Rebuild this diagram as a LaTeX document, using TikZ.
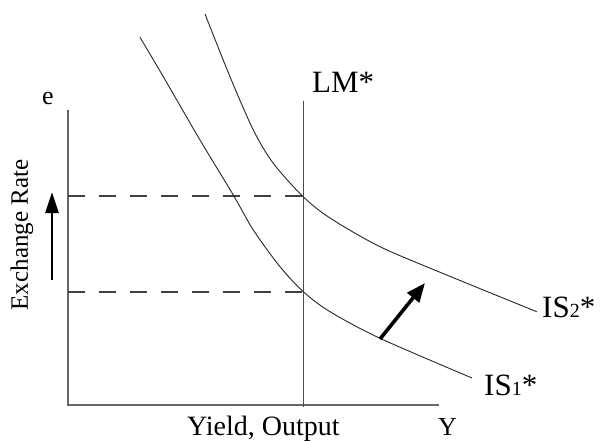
\documentclass[tikz,border=0pt]{standalone}
\usepackage{fontspec}
\setmainfont{Liberation Serif}
\usetikzlibrary{arrows.meta}
\begin{document}
\begin{tikzpicture}[x=1pt,y=-1pt,
  axisline/.style={draw=black!60, line width=1.4pt},
  lmline/.style={draw=black!70, line width=1pt},
  curveline/.style={draw=black!85, line width=0.9pt},
  guide/.style={draw=black!75, line width=1.1pt, dash pattern=on 17pt off 14pt},
  shiftarrow/.style={draw=black, line width=3.6pt, -{Triangle[length=19pt,width=15pt]}},
  uparrow/.style={draw=black, line width=2.6pt, -{Triangle[length=21pt,width=13pt]}},
  biglbl/.style={inner sep=0pt, anchor=base west, font=\fontsize{31}{32}\selectfont},
  midlbl/.style={inner sep=0pt, anchor=base west, font=\fontsize{28}{30}\selectfont},
  smalllbl/.style={inner sep=0pt, anchor=base west, font=\fontsize{26}{28}\selectfont}]
\useasboundingbox (0,0) rectangle (602,441);
% axes and reference points
\coordinate (O) at (68,405);
\coordinate (Ytop) at (68,110);
\coordinate (Xend) at (439,405);
\coordinate (LMtop) at (303,101);
\coordinate (LMbot) at (303,407);
\coordinate (E2) at (303,196);
\coordinate (E1) at (303,292);
\coordinate (A2) at (68,196);
\coordinate (A1) at (68,292);
\coordinate (S1) at (380,339);
\coordinate (S2) at (425,283);
\coordinate (R1) at (52,280);
\coordinate (R2) at (52,192);
\draw[axisline] (Ytop) -- (O) -- (Xend);
\draw[lmline] (LMtop) -- (LMbot);
\draw[guide] (A2) -- (E2);
\draw[guide] (A1) -- (E1);
% IS curves
\draw[curveline] plot[smooth, tension=0.5] coordinates {(205,14) (230,76.7) (253.3,130) (273.3,163.3) (303,196.5) (330,218) (380,246.7) (446.7,275) (536.7,311.7)};
\draw[curveline] plot[smooth, tension=0.5] coordinates {(140,37.3) (163.3,76.7) (200,140) (233.3,195) (253.3,230) (280,266.7) (303.3,291.7) (330,311.7) (380,338.3) (472,378)};
% shift arrows
\draw[shiftarrow] (S1) -- (S2);
\draw[uparrow] (R1) -- (R2);
% labels
\node[biglbl] (lm) at (312,93) {LM*};
\node[biglbl] (is2) at (542,317) {IS{\fontsize{20}{20}\selectfont 2}*};
\node[biglbl] (is1) at (484,395) {IS{\fontsize{20}{20}\selectfont 1}*};
\node[smalllbl] (e) at (42,105) {e};
\node[smalllbl] (y) at (438,435) {Y};
\node[midlbl] (yo) at (187,435) {Yield, Output};
\node[inner sep=0pt, rotate=90, font=\fontsize{25}{26}\selectfont] (er) at (22,235) {Exchange Rate};
\end{tikzpicture}
\end{document}
